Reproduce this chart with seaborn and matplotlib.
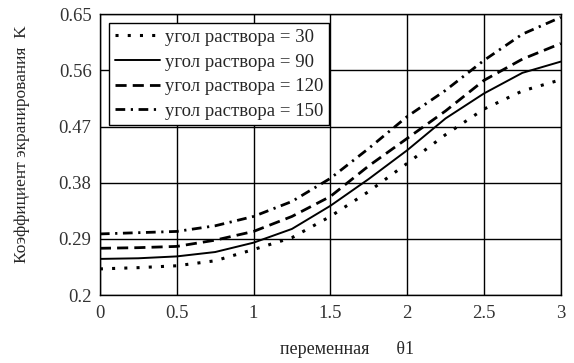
import numpy as np
import pandas as pd
import matplotlib
matplotlib.use("Agg")
import matplotlib.pyplot as plt
import seaborn as sns

# значения
theta = [0, 0.25, 0.5, 0.75, 1.0, 1.25, 1.5, 1.75, 2.0, 2.25, 2.5, 2.75, 3.0]
k30 = [0.242, 0.244, 0.247, 0.255, 0.273, 0.292, 0.326, 0.366, 0.411, 0.457, 0.498, 0.527, 0.545]
k90 = [0.258, 0.259, 0.262, 0.269, 0.284, 0.306, 0.343, 0.386, 0.432, 0.483, 0.523, 0.556, 0.574]
k120 = [0.275, 0.276, 0.278, 0.288, 0.302, 0.326, 0.358, 0.407, 0.451, 0.495, 0.544, 0.578, 0.603]
k150 = [0.298, 0.300, 0.302, 0.311, 0.326, 0.350, 0.387, 0.435, 0.486, 0.528, 0.576, 0.618, 0.645]
labels = ["угол раствора = 30", "угол раствора = 90", "угол раствора = 120", "угол раствора = 150"]
xticks = [0, 0.5, 1, 1.5, 2, 2.5, 3]
yticks = [0.2, 0.29, 0.38, 0.47, 0.56, 0.65]

sns.set_style("white")
plt.rcParams['font.family'] = ['Liberation Serif', 'DejaVu Serif']

styles = [
    dict(linestyle=(0, (1, 3)), linewidth=2.2),
    dict(linestyle='-', linewidth=1.4),
    dict(linestyle=(0, (4, 2.2)), linewidth=2.0),
    dict(linestyle=(0, (3.5, 2, 0.8, 2)), linewidth=2.0),
]

fig, ax = plt.subplots(figsize=(5.74, 3.63), dpi=100)
fig.subplots_adjust(left=0.174, right=0.977, bottom=0.187, top=0.961)

for vals, lab, st in zip([k30, k90, k120, k150], labels, styles):
    df = pd.DataFrame({'theta': theta, 'K': vals})
    sns.lineplot(data=df, x='theta', y='K', ax=ax, color='black', label=lab, **st)

ax.set_xlim(0, 3)
ax.set_ylim(0.2, 0.65)
ax.set_xticks(xticks)
ax.set_xticklabels(['0', '0.5', '1', '1.5', '2', '2.5', '3'])
ax.set_yticks(yticks)
ax.set_yticklabels(['0.2', '0.29', '0.38', '0.47', '0.56', '0.65'])
ax.grid(True, color='black', linewidth=1)
for s in ax.spines.values():
    s.set_color('black')
    s.set_linewidth(1)
ax.tick_params(axis='both', direction='out', length=4, width=1, colors='black',
               labelsize=13.5, labelcolor='#333333')
ax.tick_params(axis='x', pad=3)
ax.tick_params(axis='y', pad=2)

ax.set_xlabel('переменная      θ1', fontsize=13)
ax.xaxis.set_label_coords(0.536, -0.165)
ax.set_ylabel('Коэффициент экранирования  K', fontsize=12.5)
ax.yaxis.set_label_coords(-0.152, 0.537)

leg = ax.legend(loc='upper left', bbox_to_anchor=(0.02, 0.968), fontsize=13.5,
                frameon=True, fancybox=False, shadow=False, handlelength=2.4,
                handletextpad=0.3, borderpad=0.3, labelspacing=0.4,
                borderaxespad=0)
leg.get_frame().set_edgecolor('black')
leg.get_frame().set_linewidth(1)
leg.get_frame().set_alpha(1)

fig.savefig('out.png', dpi=100)
